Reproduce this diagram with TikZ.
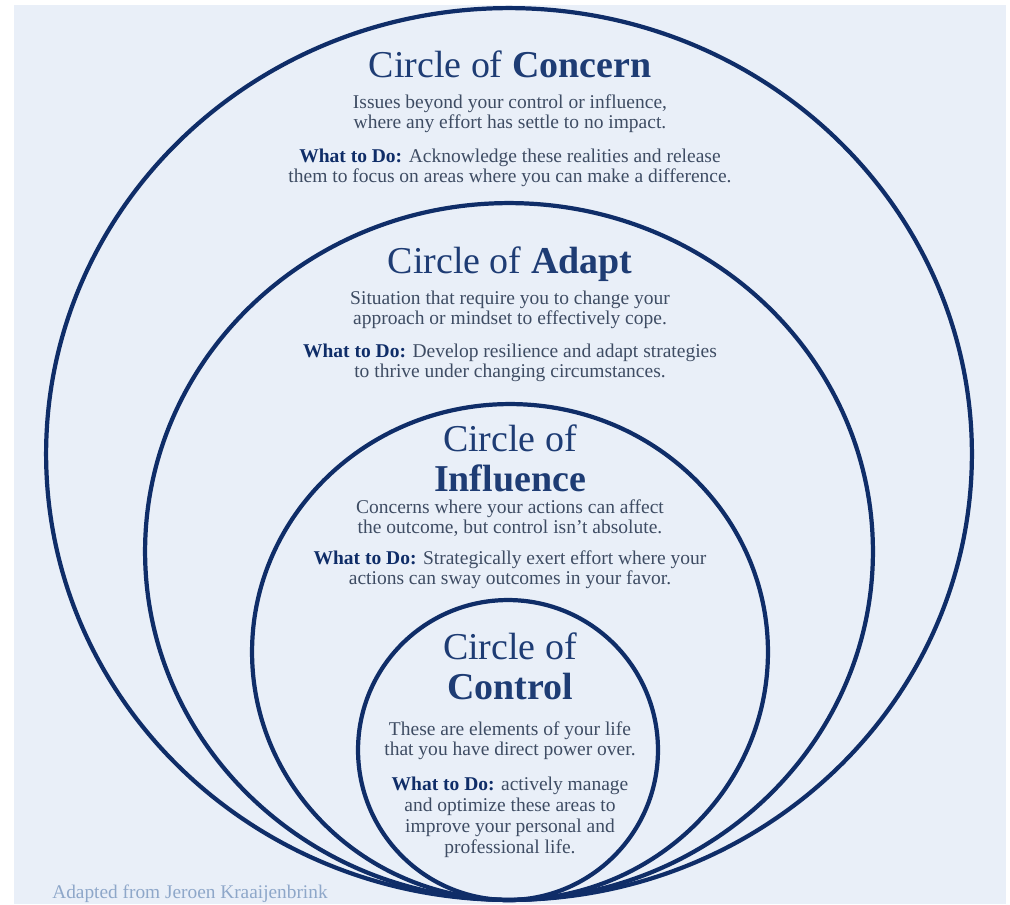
\documentclass[tikz,border=0pt]{standalone}
\usepackage{fontspec}
\setmainfont{Liberation Serif}
\usetikzlibrary{positioning}
\definecolor{paper}{HTML}{E9EFF8}
\definecolor{ringblue}{HTML}{0F2D68}
\definecolor{headblue}{HTML}{1E3C74}
\definecolor{bodygray}{HTML}{3E4C63}
\definecolor{footblue}{HTML}{8EA7C9}
\tikzset{%
	% Specifications for style of circles and texts:
	ring/.style = {draw=ringblue, line width=2.4pt},
	heading/.style = {inner sep=0pt, align=center, text=headblue, font=\fontsize{21.6}{22.8}\selectfont},
	body/.style = {inner sep=0pt, align=center, text=bodygray, font=\fontsize{11.1}{11.5}\selectfont},
	todo/.style = {body},
	credit/.style = {inner sep=0pt, text=footblue, font=\fontsize{11}{12}\selectfont},
}
\newcommand{\whattodo}{\textbf{\color{ringblue}What to Do:}}

\begin{document}
\begin{tikzpicture}[x=0.02cm, y=-0.02cm]
		\useasboundingbox (0,0) rectangle (1010,904);
		\fill[white] (0,0) rectangle (1010,904);
		\fill[paper] (14,5) rectangle (1006,904);
		
		% the four rings, all touching at the bottom
		\draw [ring] (509,454) ellipse [x radius=9.26cm, y radius=8.92cm];
		\draw [ring] (509,551.5) ellipse [x radius=7.28cm, y radius=6.97cm];
		\draw [ring] (510,652) ellipse [x radius=5.16cm, y radius=4.96cm];
		\draw [ring] (508,750) ellipse [x radius=3cm, y radius=3cm];
		
		\node (ConcernTitle) [heading, anchor=base] at (510,77.5) {Circle of \textbf{Concern}};
		\node (ConcernText) [body, below=9pt of ConcernTitle] {Issues beyond your control or influence,\\where any effort has settle to no impact.};
		\node (ConcernDo) [todo, below=9pt of ConcernText] {\whattodo{} Acknowledge these realities and release\\them to focus on areas where you can make a difference.};
		
		\node (AdaptTitle) [heading, anchor=base] at (510,273.5) {Circle of \textbf{Adapt}};
		\node (AdaptText) [body, below=5pt of AdaptTitle] {Situation that require you to change your\\approach or mindset to effectively cope.};
		\node (AdaptDo) [todo, below=8pt of AdaptText] {\whattodo{} Develop resilience and adapt strategies\\to thrive under changing circumstances.};
		
		\node (InfluenceTitle) [heading, anchor=north] at (510,424) {Circle of\\\textbf{Influence}};
		\node (InfluenceText) [body, below=4.3pt of InfluenceTitle] {Concerns where your actions can affect\\the outcome, but control isn't absolute.};
		\node (InfluenceDo) [todo, below=7.4pt of InfluenceText] {\whattodo{} Strategically exert effort where your\\actions can sway outcomes in your favor.};
		
		\node (ControlTitle) [heading, anchor=north] at (510,632) {Circle of\\\textbf{Control}};
		\node (ControlText) [body, below=12pt of ControlTitle] {These are elements of your life\\that you have direct power over.};
		\node (ControlDo) [todo, below=9.7pt of ControlText, font=\fontsize{11.1}{12}\selectfont] {\whattodo{} actively manage\\and optimize these areas to\\improve your personal and\\professional life.};
		
		\node (Credit) [credit, anchor=base west] at (52,898) {Adapted from Jeroen Kraaijenbrink};
     \end{tikzpicture}
\end{document}
